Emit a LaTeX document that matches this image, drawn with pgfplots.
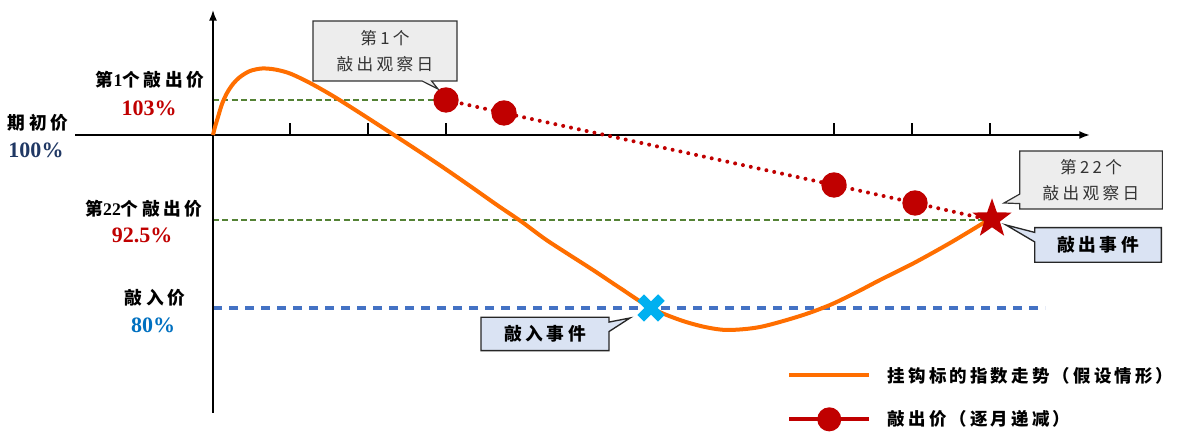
\documentclass[border=0pt]{standalone}
\usepackage{fontspec}
\setmainfont{Liberation Serif}
\newfontfamily\cjk{Noto Sans CJK SC}[LetterSpace=20]
\newfontfamily\cjkleg{Noto Sans CJK SC}[LetterSpace=18]
\usepackage{pgfplots}
\pgfplotsset{compat=1.18}
\usetikzlibrary{shapes.callouts,arrows.meta}

\definecolor{orng}{RGB}{255,110,0}
\definecolor{dkred}{RGB}{192,0,0}
\definecolor{grn}{RGB}{84,130,53}
\definecolor{blu}{RGB}{68,114,196}
\definecolor{cyn}{RGB}{0,176,240}
\definecolor{navy}{RGB}{32,56,100}
\definecolor{txtblue}{RGB}{0,112,192}
\definecolor{boxgray}{RGB}{237,237,237}
\definecolor{boxblue}{RGB}{218,227,243}

% filled five-pointed star
\pgfdeclareplotmark{fstar}{%
  \pgfpathmoveto{\pgfpointpolar{90}{\pgfplotmarksize}}%
  \pgfpathlineto{\pgfpointpolar{126}{0.4\pgfplotmarksize}}%
  \pgfpathlineto{\pgfpointpolar{162}{\pgfplotmarksize}}%
  \pgfpathlineto{\pgfpointpolar{198}{0.4\pgfplotmarksize}}%
  \pgfpathlineto{\pgfpointpolar{234}{\pgfplotmarksize}}%
  \pgfpathlineto{\pgfpointpolar{270}{0.4\pgfplotmarksize}}%
  \pgfpathlineto{\pgfpointpolar{306}{\pgfplotmarksize}}%
  \pgfpathlineto{\pgfpointpolar{342}{0.4\pgfplotmarksize}}%
  \pgfpathlineto{\pgfpointpolar{18}{\pgfplotmarksize}}%
  \pgfpathlineto{\pgfpointpolar{54}{0.4\pgfplotmarksize}}%
  \pgfpathclose
  \pgfusepathqfill
}

\newcommand\lblfont{\cjk\bfseries\fontsize{13.3}{15}\selectfont}
\newcommand\legfont{\cjkleg\bfseries\fontsize{13.1}{15}\selectfont}
\newcommand\numfont{\bfseries\fontsize{16.5}{18}\selectfont}

\begin{document}
\begin{tikzpicture}
\begin{axis}[
    x=0.75pt, y=0.75pt,
    xmin=0, xmax=1180, ymin=-442, ymax=0,
    hide axis, clip=false,
    legend style={draw=none, fill=none, at={(axis cs:787,-364)}, anchor=north west,
        font=\legfont, row sep=15.5pt, inner sep=0pt,
        /tikz/every odd column/.append style={column sep=10.5pt}},
    legend cell align=left,
]
% reference levels
\addplot[grn, line width=1.5pt, dash pattern=on 4.5pt off 2.5pt, forget plot]
    coordinates {(213,-100)(446,-100)};
\addplot[grn, line width=1.5pt, dash pattern=on 4.5pt off 2.5pt, forget plot]
    coordinates {(213,-220)(990,-220)};
\addplot[blu, line width=2.5pt, dash pattern=on 7pt off 5pt, forget plot]
    coordinates {(213,-308)(1045,-308)};

% axes
\addplot[black, line width=1.5pt, -{Latex[length=8pt,width=6pt]}, forget plot]
    coordinates {(75,-135)(1090,-135)};
\addplot[black, line width=1.2pt, -{Latex[length=8pt,width=6pt]}, forget plot]
    coordinates {(213,-413)(213,-10)};
\pgfplotsinvokeforeach{290,368,446,834,912,990}{
  \addplot[black, line width=0.8pt, forget plot] coordinates {(#1,-135)(#1,-123)};
}

% index path
\addplot[orng, line width=3pt, smooth,
    legend image code/.code={\draw[orng, solid, line width=3pt] (0pt,0pt) -- (60pt,0pt);}]
    coordinates {
    (213,-135)(215,-127)(218,-117)(222,-104)(227,-93)(233,-84)(240,-77)(250,-71)
    (262,-68.5)(275,-69.5)(290,-73.5)(310,-83)(333,-96)(360,-113)(394,-135)
    (420,-152)(444,-168)(470,-186)(497,-205)(522,-222)(545,-239)(568,-254)
    (593,-270)(620,-288)(651,-308)(680,-320)(705,-327)(728,-330)(760,-327)
    (800,-316)(830,-305)(857,-292)(880,-280)(914,-263)(950,-243)(985,-222)
    };
\addlegendentry{挂钩标的指数走势（假设情形）}

% autocall barrier
\addplot[dkred, line width=3pt, dash pattern=on 0pt off 6pt, line cap=round,
    mark=*, mark size=8pt, mark options={solid, fill=dkred, draw=none},
    mark indices={1,2,3,4},
    legend image code/.code={\draw[dkred, solid, line cap=butt, line width=3pt] (0pt,0pt) -- (60pt,0pt);
        \fill[dkred, solid] (30pt,0pt) circle (7.5pt);}]
    coordinates {(446,-100)(504,-113)(834,-185)(915,-203)(990,-220)};
\addlegendentry{敲出价（逐月递减）}

% events
\addplot[only marks, mark=x, mark size=11pt, mark options={cyn, line width=7pt}, forget plot]
    coordinates {(651,-308)};
\addplot[only marks, mark=fstar, mark size=15.5pt, color=dkred, forget plot]
    coordinates {(992,-219)};

% left labels
\node[font=\lblfont] at (axis cs:150,-80) {第{\rmfamily 1}个敲出价};
\node[font=\numfont, text=dkred] at (axis cs:149,-108) {103\%};
\node[font=\lblfont] at (axis cs:38,-123) {期初价};
\node[font=\numfont, text=navy] at (axis cs:36,-150) {100\%};
\node[font=\lblfont] at (axis cs:144,-209) {第{\rmfamily 22}个敲出价};
\node[font=\numfont, text=dkred] at (axis cs:142,-235) {92.5\%};
\node[font=\lblfont] at (axis cs:155,-298) {敲入价};
\node[font=\numfont, text=txtblue] at (axis cs:153,-325) {80\%};

% callouts
\node[rectangle callout, draw=black!80, fill=boxgray, line width=0.9pt, inner sep=0pt,
    minimum width=108pt, minimum height=45pt, align=center, text=black!80,
    font=\cjk\fontsize{12.5}{19.5}\selectfont,
    callout absolute pointer={(axis cs:438,-89)}] at (axis cs:385,-51) {第1个\\敲出观察日};
\node[rectangle callout, draw=black!80, fill=boxgray, line width=0.9pt, inner sep=0pt,
    minimum width=107pt, minimum height=43.5pt, align=center, text=black!80,
    font=\cjk\fontsize{12.5}{19.5}\selectfont,
    callout absolute pointer={(axis cs:1004,-203)}] at (axis cs:1091,-180) {第22个\\敲出观察日};
\node[rectangle callout, draw=black!85, fill=boxblue, line width=1pt, inner sep=0pt,
    minimum width=95pt, minimum height=26pt, font=\lblfont,
    callout absolute pointer={(axis cs:1006,-225)}] at (axis cs:1098,-245) {敲出事件};
\node[rectangle callout, draw=black!85, fill=boxblue, line width=1pt, inner sep=0pt,
    minimum width=96pt, minimum height=25pt, font=\lblfont,
    callout absolute pointer={(axis cs:630,-318)}] at (axis cs:545,-334) {敲入事件};
\end{axis}
\pgfresetboundingbox
\path (current axis.south west) rectangle (current axis.north east);
\end{tikzpicture}
\end{document}
